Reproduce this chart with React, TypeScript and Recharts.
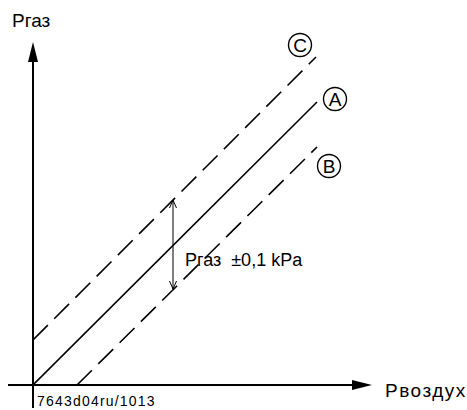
import React from "react";
import { ComposedChart, Line, ReferenceDot, ReferenceLine, XAxis, YAxis } from "recharts";

// Pвоздух on x, Pгаз on y (arbitrary units)
const lineA = [
  { x: 0, y: 0 },
  { x: 284, y: 283 }
];
const lineC = [
  { x: 0, y: 45 },
  { x: 283, y: 328 }
];
const lineB = [
  { x: 44, y: 0 },
  { x: 284, y: 238 }
];

const curveTags = [
  { name: "C", x: 267, y: 340 },
  { name: "A", x: 302, y: 286 },
  { name: "B", x: 296, y: 219 }
];

const toleranceSpan = [
  { x: 140, y: 185 },
  { x: 140, y: 96 }
];

const FONT = "Arial, 'Liberation Sans', sans-serif";

const ArrowLine = (props: any) => {
  const { x1, y1, x2, y2 } = props;
  const dx = x2 - x1;
  const dy = y2 - y1;
  const len = Math.sqrt(dx * dx + dy * dy);
  const ux = dx / len;
  const uy = dy / len;
  const head = 20;
  const half = 5;
  const bx = x2 - ux * head;
  const by = y2 - uy * head;
  return (
    <g>
      <line x1={x1} y1={y1} x2={bx} y2={by} stroke="#000" strokeWidth={2} />
      <polygon
        points={`${x2},${y2} ${bx - uy * half},${by + ux * half} ${bx + uy * half},${by - ux * half}`}
        fill="#000"
      />
    </g>
  );
};

const DoubleArrow = (props: any) => {
  const { x1, y1, x2, y2 } = props;
  const h = 8;
  const w = 3.5;
  const dir = y2 > y1 ? 1 : -1;
  return (
    <g fill="none" stroke="#000" strokeWidth={1}>
      <line x1={x1} y1={y1} x2={x2} y2={y2} />
      <polyline points={`${x1 - w},${y1 + dir * h} ${x1},${y1} ${x1 + w},${y1 + dir * h}`} />
      <polyline points={`${x2 - w},${y2 - dir * h} ${x2},${y2} ${x2 + w},${y2 - dir * h}`} />
    </g>
  );
};

const tagShape = (name: string) => (props: any) => (
  <g>
    <circle cx={props.cx} cy={props.cy} r={11.5} fill="#fff" stroke="#000" strokeWidth={1.4} />
    <text x={props.cx} y={props.cy + 6.5} textAnchor="middle" fontFamily={FONT} fontSize={19}>
      {name}
    </text>
  </g>
);

const textShape = (txt: string, size: number, spacing = 0) => (props: any) => (
  <text
    x={props.cx}
    y={props.cy}
    fontFamily={FONT}
    fontSize={size}
    letterSpacing={spacing}
    fill="#000"
    style={{ whiteSpace: "pre" }}
  >
    {txt}
  </text>
);

export default function App() {
  return (
    <div style={{ position: "absolute", left: 0, top: 0, background: "#fff" }}>
      <ComposedChart width={467} height={410} margin={{ top: 42, right: 95, bottom: 25, left: 33 }}>
        <XAxis type="number" dataKey="x" domain={[0, 339]} allowDataOverflow hide />
        <YAxis type="number" dataKey="y" domain={[0, 343]} allowDataOverflow hide />

        <ReferenceLine
          segment={[{ x: -25, y: 0 }, { x: 339, y: 0 }]}
          ifOverflow="visible"
          shape={ArrowLine}
        />
        <ReferenceLine
          segment={[{ x: 0, y: -23 }, { x: 0, y: 343 }]}
          ifOverflow="visible"
          shape={ArrowLine}
        />

        <Line data={lineC} dataKey="y" stroke="#000" strokeWidth={1.6} strokeDasharray="21 9" dot={false} isAnimationActive={false} />
        <Line data={lineA} dataKey="y" stroke="#000" strokeWidth={1.6} dot={false} isAnimationActive={false} />
        <Line data={lineB} dataKey="y" stroke="#000" strokeWidth={1.6} strokeDasharray="21 9" dot={false} isAnimationActive={false} />

        <ReferenceLine segment={toleranceSpan} ifOverflow="visible" shape={DoubleArrow} />

        {curveTags.map((t) => (
          <ReferenceDot key={t.name} x={t.x} y={t.y} ifOverflow="visible" shape={tagShape(t.name)} />
        ))}

        <ReferenceDot x={152} y={119} ifOverflow="visible" shape={textShape("Pгаз  ±0,1 kPa", 18)} />
        <ReferenceDot x={-21} y={358} ifOverflow="visible" shape={textShape("Pгаз", 19)} />
        <ReferenceDot x={352} y={-12} ifOverflow="visible" shape={textShape("Pвоздух", 19, 1.5)} />
        <ReferenceDot x={4} y={-21} ifOverflow="visible" shape={textShape("7643d04ru/1013", 14, 1.2)} />
      </ComposedChart>
    </div>
  );
}
